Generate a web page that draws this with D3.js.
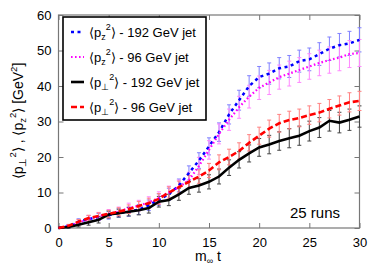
<!DOCTYPE html>
<html>
<head>
<meta charset="utf-8">
<script src="https://cdn.jsdelivr.net/npm/d3@7"></script>
<style>
  body { margin: 0; background: #fff; }
  svg { font-family: "Liberation Sans", Arial, sans-serif; }
</style>
</head>
<body>
<svg id="chart" width="382" height="267"></svg>
<script>
// time grid (m_inf t) and the four averaged curves, 25 runs
const times = d3.range(0, 31);
const pz192 = [0,0.5,1.8,2.5,3.1,3.6,4.2,4.6,5.2,6.4,8,9.5,12,15.5,19,23,27,32,36,40,42.5,43.5,45,45.5,47,47.5,49,50.5,51.5,52,53];
const pz96  = [0,0.5,1.5,2.5,3.3,4,4.6,5.6,6.3,7.2,8.5,10,11.5,13.5,17.5,22,26.5,30.5,34,37,39.5,41,42.5,43.5,44.5,45.5,46.5,47.3,48,49,49.3];
const pt192 = [0,0.3,0.9,1.6,2.3,3.8,4.2,4.6,5,5.6,7.4,7.9,9.5,11.3,12,13,14.5,17,19.2,21,22.7,23.5,24.5,25.3,26,27.3,28.3,30.2,29.7,30.5,31.4];
const pt96  = [0,0.6,1.8,2.8,3.4,4,4.6,5.3,6.2,7,8.2,10,11.5,13,14.5,16.2,18.5,20,21.7,24,26,28,29.5,30.4,31,31.8,32.5,33.6,34.5,35.4,35.8];

// statistical errors
const pz192Err = [0,0.5,0.8,1,1,1.1,1.2,1.3,1.4,1.5,1.6,1.7,1.8,2,2.2,2.4,2.6,2.7,2.8,2.9,3,3,3,3.1,3.1,3.2,3.2,3.3,3.3,3.4,3.4];
const pz96Err  = [0,0.5,0.8,1,1.1,1.2,1.3,1.4,1.5,1.6,1.7,1.8,2,2.2,2.4,2.6,2.8,3,3.1,3.2,3.3,3.4,3.4,3.5,3.5,3.6,3.6,3.7,3.7,3.8,3.8];
const pt192Err = [0,0.4,0.6,0.8,0.9,1,1.1,1.2,1.3,1.4,1.5,1.6,1.7,1.8,1.9,2,2.1,2.2,2.3,2.4,2.5,2.6,2.6,2.7,2.7,2.8,2.8,2.9,2.9,3,3];
const pt96Err  = [0,0.4,0.6,0.8,0.9,1,1.1,1.2,1.3,1.4,1.5,1.6,1.7,1.8,1.9,2,2.1,2.2,2.3,2.3,2.4,2.4,2.5,2.5,2.5,2.6,2.6,2.6,2.7,2.7,2.7];

const xTicks = [0, 5, 10, 15, 20, 25, 30];
const yTicks = [0, 10, 20, 30, 40, 50, 60];

const series = [
  { vals: pz192, err: pz192Err, color: "#0000ff", barColor: "#8080ff", dash: "3,3.5", width: 2.5, sub: "z", label: " - 192 GeV jet" },
  { vals: pz96,  err: pz96Err,  color: "#ff00ff", barColor: "#ff88ff", dash: "1.6,2.4", width: 2.2, sub: "z", label: " - 96 GeV jet" },
  { vals: pt192, err: pt192Err, color: "#000000", barColor: "#444444", dash: null, width: 2.6, sub: "\u22A5", label: " - 192 GeV jet" },
  { vals: pt96,  err: pt96Err,  color: "#ff0000", barColor: "#ff8080", dash: "6,3", width: 2.6, sub: "\u22A5", label: " - 96 GeV jet" }
];

const svg = d3.select("#chart");
const x = d3.scaleLinear().domain([0, 30]).range([58.5, 359.5]);
const y = d3.scaleLinear().domain([0, 60]).range([228, 15]);

const frameColor = "#777";

// axes, ticks pointing inward
const gx = svg.append("g").attr("transform", `translate(0,${y(0)})`)
  .call(d3.axisBottom(x).tickValues(xTicks).tickSizeInner(-5).tickSizeOuter(0).tickPadding(10));
const gy = svg.append("g").attr("transform", `translate(${x(0)},0)`)
  .call(d3.axisLeft(y).tickValues(yTicks).tickSizeInner(-5).tickSizeOuter(0).tickPadding(7));
const gt = svg.append("g").attr("transform", `translate(0,${y(60)})`)
  .call(d3.axisTop(x).tickValues(xTicks).tickSizeInner(-5).tickSizeOuter(0).tickFormat(""));
const gr = svg.append("g").attr("transform", `translate(${x(30)},0)`)
  .call(d3.axisRight(y).tickValues(yTicks).tickSizeInner(-5).tickSizeOuter(0).tickFormat(""));

[gx, gy, gt, gr].forEach(g => {
  g.select(".domain").remove();
  g.selectAll(".tick line").attr("stroke", frameColor);
  g.selectAll(".tick text").attr("fill", "#000").style("font-size", "13px");
});

svg.append("rect")
  .attr("x", x(0)).attr("y", y(60))
  .attr("width", x(30) - x(0)).attr("height", y(0) - y(60))
  .attr("fill", "none").attr("stroke", frameColor).attr("stroke-width", 1.2);

const plot = svg.append("g");

series.forEach(s => {
  const pts = times.map((t, i) => ({ t, v: s.vals[i], e: s.err[i] })).filter(d => d.t > 0);

  // error bars with caps
  const bars = plot.append("g").attr("stroke", s.barColor).attr("stroke-width", 1);
  bars.selectAll("line.v").data(pts).join("line").attr("class", "v")
    .attr("x1", d => x(d.t)).attr("x2", d => x(d.t))
    .attr("y1", d => y(d.v - d.e)).attr("y2", d => y(d.v + d.e));
  bars.selectAll("line.top").data(pts).join("line").attr("class", "top")
    .attr("x1", d => x(d.t) - 2).attr("x2", d => x(d.t) + 2)
    .attr("y1", d => y(d.v + d.e)).attr("y2", d => y(d.v + d.e));
  bars.selectAll("line.bot").data(pts).join("line").attr("class", "bot")
    .attr("x1", d => x(d.t) - 2).attr("x2", d => x(d.t) + 2)
    .attr("y1", d => y(d.v - d.e)).attr("y2", d => y(d.v - d.e));
});

const line = d3.line().x((d, i) => x(times[i])).y(d => y(d));
series.forEach(s => {
  plot.append("path")
    .datum(s.vals)
    .attr("d", line)
    .attr("fill", "none")
    .attr("stroke", s.color)
    .attr("stroke-width", s.width)
    .attr("stroke-dasharray", s.dash);
});

// legend box
svg.append("rect")
  .attr("x", 63).attr("y", 17).attr("width", 143).attr("height", 103)
  .attr("fill", "#fff").attr("stroke", "#000").attr("stroke-width", 1.6);

series.forEach((s, i) => {
  const cy = 32 + i * 25;
  svg.append("line")
    .attr("x1", 71).attr("x2", 84).attr("y1", cy).attr("y2", cy)
    .attr("stroke", s.color).attr("stroke-width", s.width)
    .attr("stroke-dasharray", s.dash);
  const txt = svg.append("text").attr("x", 89).attr("y", cy + 5).style("font-size", "13px");
  txt.append("tspan").text("\u27E8p");
  txt.append("tspan").attr("dy", 3).style("font-size", "9px").text(s.sub);
  txt.append("tspan").attr("dy", -10).style("font-size", "9px").text("2");
  txt.append("tspan").attr("dy", 7).text("\u27E9" + s.label);
});

// axis titles
const xt = svg.append("text").attr("x", 208).attr("y", 261)
  .attr("text-anchor", "middle").style("font-size", "14px");
xt.append("tspan").text("m");
xt.append("tspan").attr("dy", 3).style("font-size", "9px").text("\u221E");
xt.append("tspan").attr("dy", -3).text(" t");

const yt = svg.append("text")
  .attr("transform", "translate(23,121) rotate(-90)")
  .attr("text-anchor", "middle").style("font-size", "14px");
yt.append("tspan").text("\u27E8p");
yt.append("tspan").attr("dy", 3).style("font-size", "9.5px").text("\u22A5");
yt.append("tspan").attr("dy", -10).style("font-size", "9.5px").text("2");
yt.append("tspan").attr("dy", 7).text("\u27E9 , \u27E8p");
yt.append("tspan").attr("dy", 3).style("font-size", "9.5px").text("z");
yt.append("tspan").attr("dy", -10).style("font-size", "9.5px").text("2");
yt.append("tspan").attr("dy", 7).text("\u27E9  [GeV");
yt.append("tspan").attr("dy", -6).style("font-size", "9.5px").text("2");
yt.append("tspan").attr("dy", 6).text("]");

svg.append("text").attr("x", 290).attr("y", 218)
  .style("font-size", "15px").text("25 runs");
</script>
</body>
</html>
